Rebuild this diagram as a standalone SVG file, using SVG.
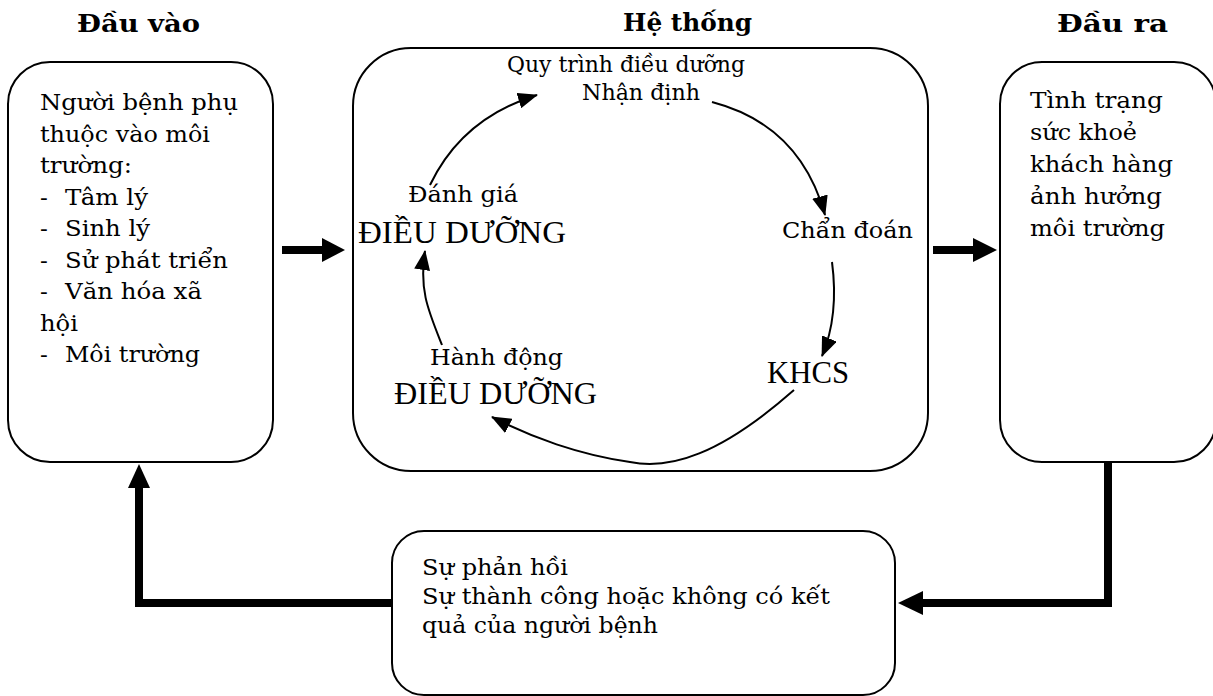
<svg xmlns="http://www.w3.org/2000/svg" width="1213" height="696" viewBox="0 0 1213 696">
<style>
.box{fill:#fff;stroke:#000;stroke-width:2}
.t{font-family:"DejaVu Serif","Liberation Serif",serif;font-size:23px;fill:#000}
.h{font-family:"DejaVu Serif","Liberation Serif",serif;font-size:25px;font-weight:bold;fill:#000}
.big{font-family:"Liberation Serif","Times New Roman",serif;font-size:31px;fill:#000}
.thin{fill:none;stroke:#000;stroke-width:2}
.thick{fill:none;stroke:#000;stroke-width:8}
</style>
<defs>
<marker id="ah" markerUnits="userSpaceOnUse" markerWidth="20" markerHeight="16" viewBox="0 0 20 16" refX="19" refY="8" orient="auto">
<path d="M0,0 L20,8 L0,16 Z" fill="#000"/>
</marker>
</defs>
<g id="titles">
<text class="h" x="77" y="32" textLength="123" lengthAdjust="spacingAndGlyphs">Đầu vào</text>
<text class="h" x="623" y="31" textLength="129" lengthAdjust="spacingAndGlyphs">Hệ thống</text>
<text class="h" x="1057" y="32" textLength="111" lengthAdjust="spacingAndGlyphs">Đầu ra</text>
</g>
<g id="input">
<rect class="box" x="8" y="62" width="265" height="400" rx="42" ry="42"/>
<text class="t" x="40" y="110" textLength="198" lengthAdjust="spacingAndGlyphs">Người bệnh phụ</text>
<text class="t" x="40" y="141.5" textLength="170" lengthAdjust="spacingAndGlyphs">thuộc vào môi</text>
<text class="t" x="40" y="173" textLength="92" lengthAdjust="spacingAndGlyphs">trường:</text>
<text class="t" x="40" y="204.5">-</text><text class="t" x="65" y="204.5" textLength="83" lengthAdjust="spacingAndGlyphs">Tâm lý</text>
<text class="t" x="40" y="236">-</text><text class="t" x="65" y="236" textLength="85" lengthAdjust="spacingAndGlyphs">Sinh lý</text>
<text class="t" x="40" y="267.5">-</text><text class="t" x="65" y="267.5" textLength="163" lengthAdjust="spacingAndGlyphs">Sử phát triển</text>
<text class="t" x="40" y="299">-</text><text class="t" x="65" y="299" textLength="137" lengthAdjust="spacingAndGlyphs">Văn hóa xã</text>
<text class="t" x="40" y="330.5" textLength="38" lengthAdjust="spacingAndGlyphs">hội</text>
<text class="t" x="40" y="362">-</text><text class="t" x="65" y="362" textLength="135" lengthAdjust="spacingAndGlyphs">Môi trường</text>
</g>
<g id="system">
<rect class="box" x="353" y="48" width="575" height="423" rx="58" ry="58"/>
<text class="t" x="507" y="72" textLength="238" lengthAdjust="spacingAndGlyphs">Quy trình điều dưỡng</text>
<text class="t" x="582" y="100" textLength="118" lengthAdjust="spacingAndGlyphs">Nhận định</text>
</g>
<g id="danhgia">
<text class="t" x="408" y="202" textLength="110" lengthAdjust="spacingAndGlyphs">Đánh giá</text>
<text class="big" x="358" y="243" textLength="208" lengthAdjust="spacingAndGlyphs">ĐIỀU DƯỠNG</text>
</g>
<g id="chandoan">
<text class="t" x="782" y="238" textLength="131" lengthAdjust="spacingAndGlyphs">Chẩn đoán</text>
</g>
<g id="khcs">
<text class="big" x="767" y="383" textLength="82" lengthAdjust="spacingAndGlyphs">KHCS</text>
</g>
<g id="hanhdong">
<text class="t" x="430" y="365" textLength="133" lengthAdjust="spacingAndGlyphs">Hành động</text>
<text class="big" x="394" y="404" textLength="203" lengthAdjust="spacingAndGlyphs">ĐIỀU DƯỠNG</text>
</g>
<g id="output">
<rect class="box" x="1000" y="62" width="216" height="400" rx="42" ry="42"/>
<text class="t" x="1030" y="108" textLength="133" lengthAdjust="spacingAndGlyphs">Tình trạng</text>
<text class="t" x="1030" y="140" textLength="107" lengthAdjust="spacingAndGlyphs">sức khoẻ</text>
<text class="t" x="1030" y="172" textLength="143" lengthAdjust="spacingAndGlyphs">khách hàng</text>
<text class="t" x="1030" y="204" textLength="132" lengthAdjust="spacingAndGlyphs">ảnh hưởng</text>
<text class="t" x="1030" y="236" textLength="135" lengthAdjust="spacingAndGlyphs">môi trường</text>
</g>
<g id="feedback">
<rect class="box" x="392" y="531" width="503" height="164" rx="32" ry="32"/>
<text class="t" x="422" y="575" textLength="146" lengthAdjust="spacingAndGlyphs">Sự phản hồi</text>
<text class="t" x="422" y="604" textLength="408" lengthAdjust="spacingAndGlyphs">Sự thành công hoặc không có kết</text>
<text class="t" x="422" y="633" textLength="236" lengthAdjust="spacingAndGlyphs">quả của người bệnh</text>
</g>
<g id="connectors">
<path class="thin" d="M430,185 Q462,118 537,95" marker-end="url(#ah)"/>
<path class="thin" d="M712,102 Q800,125 825,215" marker-end="url(#ah)"/>
<path class="thin" d="M832,262 C837,300 833,330 822,356" marker-end="url(#ah)"/>
<path class="thin" d="M794,390 C720,455 670,470 630,462 C580,455 530,437 492,417" marker-end="url(#ah)"/>
<path class="thin" d="M442,345 C428,310 419,290 425,251" marker-end="url(#ah)"/>
<line class="thick" x1="282" y1="250" x2="324" y2="250"/>
<polygon points="322,238 345,250 322,262" fill="#000"/>
<line class="thick" x1="933" y1="250" x2="975" y2="250"/>
<polygon points="973,238 997,250 973,262" fill="#000"/>
<polyline class="thick" points="1108,462 1108,603 921,603" stroke-linejoin="miter"/>
<polygon points="923,591 898,603 923,615" fill="#000"/>
<polyline class="thick" points="392,603 139,603 139,485" stroke-linejoin="miter"/>
<polygon points="128,488 139,464 150,488" fill="#000"/>
</g>
</svg>
